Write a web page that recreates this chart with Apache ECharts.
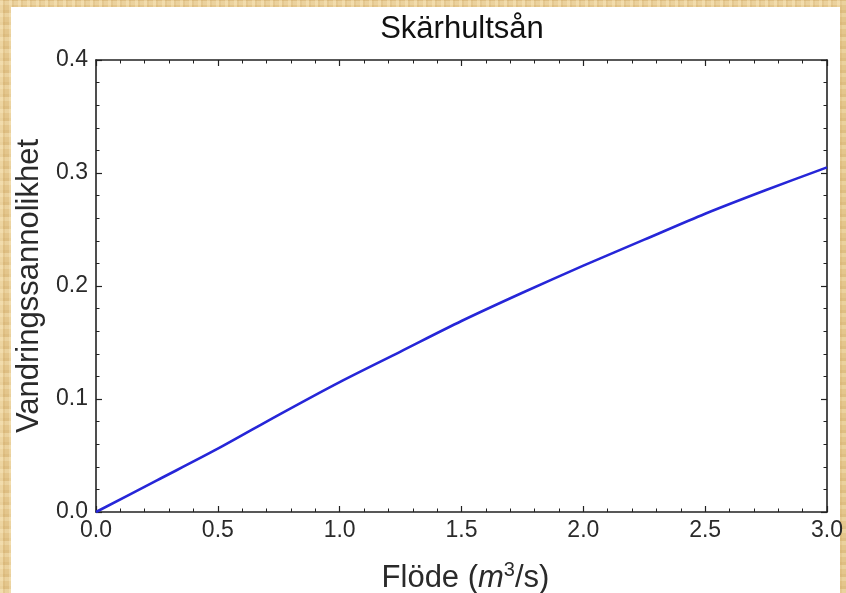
<!DOCTYPE html>
<html>
<head>
<meta charset="utf-8">
<script src="https://cdn.jsdelivr.net/npm/echarts@6/dist/echarts.min.js"></script>
<style>
  html, body { margin: 0; padding: 0; }
  body {
    background-color: #e4c68c;
    background-image:
      repeating-linear-gradient(90deg, rgba(255,240,200,0.35) 0 3px, rgba(200,160,90,0.18) 3px 5px, transparent 5px 9px),
      repeating-linear-gradient(0deg, rgba(255,245,210,0.25) 0 4px, rgba(190,150,80,0.15) 4px 7px, transparent 7px 12px);
  }
  #chart { width: 846px; height: 593px; }
</style>
</head>
<body>
<div id="chart"></div>
<script>
// Flow (m^3/s) and passage probability
const flow = [0, 0.25, 0.5, 0.75, 1.0, 1.25, 1.5, 1.75, 2.0, 2.25, 2.5, 2.75, 3.0];
const probability = [0, 0.028, 0.056, 0.086, 0.115, 0.142, 0.169, 0.194, 0.218, 0.241, 0.264, 0.285, 0.305];
const titleText = 'Skärhultsån';
const yName = 'Vandringssannolikhet';

const font = '"Liberation Sans", Arial, sans-serif';
const axisColor = '#222';
const textColor = '#2a2a2a';

const chart = echarts.init(document.getElementById('chart'));

// shared frame styling: inward ticks on all four sides
const frameAxis = {
  axisLine: { show: true, onZero: false, lineStyle: { color: axisColor, width: 1.6 } },
  axisTick: { show: true, inside: true, length: 6, lineStyle: { color: axisColor, width: 1.2 } },
  minorTick: { show: true, splitNumber: 5, length: 3.5, lineStyle: { color: axisColor, width: 1 } },
  splitLine: { show: false }
};

chart.setOption({
  backgroundColor: 'transparent',
  animation: false,
  graphic: [
    {
      type: 'rect', z: -10, silent: true,
      shape: { x: 11, y: 7, width: 829, height: 586 },
      style: { fill: '#ffffff' }
    }
  ],
  title: {
    text: titleText,
    left: 457, top: 9, textAlign: 'center',
    textStyle: { fontFamily: font, fontSize: 31, fontWeight: 'normal', color: '#111' }
  },
  grid: { left: 96, right: 19, top: 60, bottom: 81, outerBoundsMode: 'none', containLabel: false },
  xAxis: [
    Object.assign({
      type: 'value', min: 0, max: 3, interval: 0.5, position: 'bottom',
      axisLabel: {
        formatter: v => v.toFixed(1), fontFamily: font, fontSize: 23, color: textColor, margin: 7
      },
      name: '{t|Flöde (}{i|m}{s|3}{t|/s)}',
      nameLocation: 'middle', nameGap: 48,
      nameTextStyle: {
        padding: [0, 0, 0, 8],
        rich: {
          t: { fontFamily: font, fontSize: 31, color: textColor },
          i: { fontFamily: font, fontSize: 31, fontStyle: 'italic', color: textColor },
          s: { fontFamily: font, fontSize: 20, color: textColor, verticalAlign: 'top', padding: [0, 0, 16, 0] }
        }
      }
    }, frameAxis),
    Object.assign({
      type: 'value', min: 0, max: 3, interval: 0.5, position: 'top',
      axisLabel: { show: false }
    }, frameAxis)
  ],
  yAxis: [
    Object.assign({
      type: 'value', min: 0, max: 0.4, interval: 0.1, position: 'left',
      axisLabel: {
        formatter: v => v.toFixed(1), fontFamily: font, fontSize: 23, color: textColor, margin: 8
      },
      name: yName,
      nameLocation: 'middle', nameGap: 51, nameRotate: 90,
      nameTextStyle: { fontFamily: font, fontSize: 31, color: textColor }
    }, frameAxis),
    Object.assign({
      type: 'value', min: 0, max: 0.4, interval: 0.1, position: 'right',
      axisLabel: { show: false }
    }, frameAxis)
  ],
  series: [
    {
      type: 'line',
      xAxisIndex: 0, yAxisIndex: 0,
      data: flow.map((x, i) => [x, probability[i]]),
      smooth: 0.3,
      showSymbol: false,
      clip: true,
      lineStyle: { color: '#2626d8', width: 2.6 }
    }
  ]
});
</script>
</body>
</html>
